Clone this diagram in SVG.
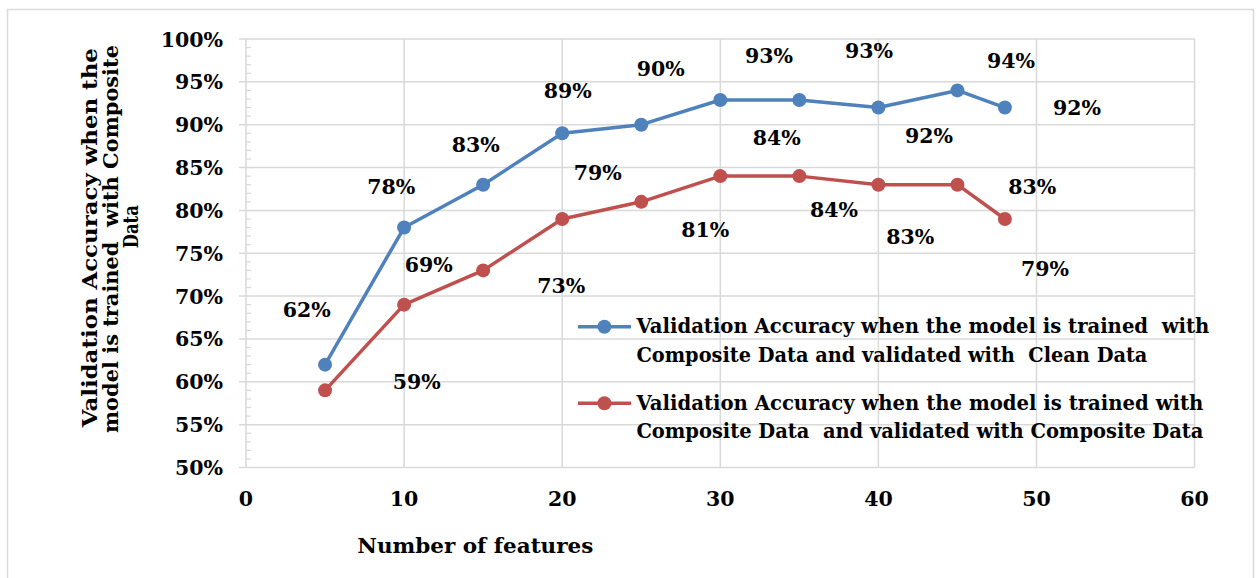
<svg xmlns="http://www.w3.org/2000/svg" width="1257" height="578" viewBox="0 0 1257 578">
  <style>
    text { font-family: "DejaVu Serif", "Liberation Serif", serif; font-weight: bold; fill: #000; font-size: 20.5px; }
    .grid { stroke: #d9d9d9; stroke-width: 1.5; fill: none; }
    .tick { stroke: #d9d9d9; stroke-width: 1.2; }
    .ylab { text-anchor: end; }
    .xlab { text-anchor: middle; }
    .dl { text-anchor: middle; }
    .blue { stroke: #4f81bd; stroke-width: 3.5; fill: none; stroke-linejoin: round; }
    .red { stroke: #c0504d; stroke-width: 3.5; fill: none; stroke-linejoin: round; }
    .bdot { fill: #4f81bd; }
    .rdot { fill: #c0504d; }
  </style>

  <!-- chart frame -->
  <rect x="7.5" y="9.5" width="1246" height="600" fill="#fff" stroke="#d9d9d9" stroke-width="1.5"/>

  <!-- horizontal gridlines every 5% -->
  <g id="y-grid" class="grid">
    <line x1="239" y1="39" x2="1194.6" y2="39"/>
    <line x1="239" y1="81.85" x2="1194.6" y2="81.85"/>
    <line x1="239" y1="124.7" x2="1194.6" y2="124.7"/>
    <line x1="239" y1="167.55" x2="1194.6" y2="167.55"/>
    <line x1="239" y1="210.4" x2="1194.6" y2="210.4"/>
    <line x1="239" y1="253.25" x2="1194.6" y2="253.25"/>
    <line x1="239" y1="296.1" x2="1194.6" y2="296.1"/>
    <line x1="239" y1="338.95" x2="1194.6" y2="338.95"/>
    <line x1="239" y1="381.8" x2="1194.6" y2="381.8"/>
    <line x1="239" y1="424.65" x2="1194.6" y2="424.65"/>
    <line x1="239" y1="467.5" x2="1194.6" y2="467.5"/>
  </g>

  <!-- vertical gridlines every 10 features, y axis at 0 -->
  <g id="x-grid" class="grid">
    <line x1="246" y1="39" x2="246" y2="468"/>
    <line x1="404.1" y1="39" x2="404.1" y2="467.5"/>
    <line x1="562.2" y1="39" x2="562.2" y2="467.5"/>
    <line x1="720.3" y1="39" x2="720.3" y2="467.5"/>
    <line x1="878.4" y1="39" x2="878.4" y2="467.5"/>
    <line x1="1036.5" y1="39" x2="1036.5" y2="467.5"/>
    <line x1="1194.6" y1="39" x2="1194.6" y2="467.5"/>
  </g>

  <!-- minor ticks every 1% -->
  <g id="y-minor" class="tick">
    <line x1="246" y1="47.57" x2="251" y2="47.57"/><line x1="246" y1="56.14" x2="251" y2="56.14"/><line x1="246" y1="64.71" x2="251" y2="64.71"/><line x1="246" y1="73.28" x2="251" y2="73.28"/>
    <line x1="246" y1="90.42" x2="251" y2="90.42"/><line x1="246" y1="98.99" x2="251" y2="98.99"/><line x1="246" y1="107.56" x2="251" y2="107.56"/><line x1="246" y1="116.13" x2="251" y2="116.13"/>
    <line x1="246" y1="133.27" x2="251" y2="133.27"/><line x1="246" y1="141.84" x2="251" y2="141.84"/><line x1="246" y1="150.41" x2="251" y2="150.41"/><line x1="246" y1="158.98" x2="251" y2="158.98"/>
    <line x1="246" y1="176.12" x2="251" y2="176.12"/><line x1="246" y1="184.69" x2="251" y2="184.69"/><line x1="246" y1="193.26" x2="251" y2="193.26"/><line x1="246" y1="201.83" x2="251" y2="201.83"/>
    <line x1="246" y1="218.97" x2="251" y2="218.97"/><line x1="246" y1="227.54" x2="251" y2="227.54"/><line x1="246" y1="236.11" x2="251" y2="236.11"/><line x1="246" y1="244.68" x2="251" y2="244.68"/>
    <line x1="246" y1="261.82" x2="251" y2="261.82"/><line x1="246" y1="270.39" x2="251" y2="270.39"/><line x1="246" y1="278.96" x2="251" y2="278.96"/><line x1="246" y1="287.53" x2="251" y2="287.53"/>
    <line x1="246" y1="304.67" x2="251" y2="304.67"/><line x1="246" y1="313.24" x2="251" y2="313.24"/><line x1="246" y1="321.81" x2="251" y2="321.81"/><line x1="246" y1="330.38" x2="251" y2="330.38"/>
    <line x1="246" y1="347.52" x2="251" y2="347.52"/><line x1="246" y1="356.09" x2="251" y2="356.09"/><line x1="246" y1="364.66" x2="251" y2="364.66"/><line x1="246" y1="373.23" x2="251" y2="373.23"/>
    <line x1="246" y1="390.37" x2="251" y2="390.37"/><line x1="246" y1="398.94" x2="251" y2="398.94"/><line x1="246" y1="407.51" x2="251" y2="407.51"/><line x1="246" y1="416.08" x2="251" y2="416.08"/>
    <line x1="246" y1="433.22" x2="251" y2="433.22"/><line x1="246" y1="441.79" x2="251" y2="441.79"/><line x1="246" y1="450.36" x2="251" y2="450.36"/><line x1="246" y1="458.93" x2="251" y2="458.93"/>
  </g>

  <!-- y axis labels -->
  <g id="y-labels" class="ylab">
    <text class="ylab" x="223" y="46.5">100%</text>
    <text class="ylab" x="223" y="89.3">95%</text>
    <text class="ylab" x="223" y="132.2">90%</text>
    <text class="ylab" x="223" y="175">85%</text>
    <text class="ylab" x="223" y="217.9">80%</text>
    <text class="ylab" x="223" y="260.7">75%</text>
    <text class="ylab" x="223" y="303.6">70%</text>
    <text class="ylab" x="223" y="346.4">65%</text>
    <text class="ylab" x="223" y="389.3">60%</text>
    <text class="ylab" x="223" y="432.1">55%</text>
    <text class="ylab" x="223" y="475">50%</text>
  </g>

  <!-- x axis labels -->
  <g id="x-labels">
    <text class="xlab" x="246" y="506">0</text>
    <text class="xlab" x="404.1" y="506">10</text>
    <text class="xlab" x="562.2" y="506">20</text>
    <text class="xlab" x="720.3" y="506">30</text>
    <text class="xlab" x="878.4" y="506">40</text>
    <text class="xlab" x="1036.5" y="506">50</text>
    <text class="xlab" x="1194.6" y="506">60</text>
  </g>

  <!-- axis titles -->
  <g id="x-title">
    <text x="357.3" y="552.7" font-size="24" textLength="236" lengthAdjust="spacingAndGlyphs">Number of features</text>
  </g>
  <g id="y-title">
    <text transform="translate(96.5,237.7) rotate(-90)" text-anchor="middle" textLength="379" lengthAdjust="spacingAndGlyphs">Validation Accuracy when the</text>
    <text transform="translate(117.5,239) rotate(-90)" text-anchor="middle" textLength="388" lengthAdjust="spacingAndGlyphs" xml:space="preserve">model is trained  with Composite</text>
    <text transform="translate(138.3,226.7) rotate(-90)" text-anchor="middle" textLength="43" lengthAdjust="spacingAndGlyphs">Data</text>
  </g>

  <!-- series: trained on composite, validated on clean -->
  <g id="series-clean">
    <polyline class="blue" points="325.05,364.66 404.1,227.54 483.15,184.69 562.2,133.27 641.25,124.7 720.3,99.99 799.35,99.99 878.4,107.56 957.45,90.42 1004.88,107.56"/>
    <circle class="bdot" cx="325.05" cy="364.66" r="7"/>
    <circle class="bdot" cx="404.1" cy="227.54" r="7"/>
    <circle class="bdot" cx="483.15" cy="184.69" r="7"/>
    <circle class="bdot" cx="562.2" cy="133.27" r="7"/>
    <circle class="bdot" cx="641.25" cy="124.7" r="7"/>
    <circle class="bdot" cx="720.3" cy="99.99" r="7"/>
    <circle class="bdot" cx="799.35" cy="99.99" r="7"/>
    <circle class="bdot" cx="878.4" cy="107.56" r="7"/>
    <circle class="bdot" cx="957.45" cy="90.42" r="7"/>
    <circle class="bdot" cx="1004.88" cy="107.56" r="7"/>
  </g>

  <!-- series: trained on composite, validated on composite -->
  <g id="series-composite">
    <polyline class="red" points="325.05,390.37 404.1,304.67 483.15,270.39 562.2,218.97 641.25,201.83 720.3,176.12 799.35,176.12 878.4,184.69 957.45,184.69 1004.88,218.97"/>
    <circle class="rdot" cx="325.05" cy="390.37" r="7"/>
    <circle class="rdot" cx="404.1" cy="304.67" r="7"/>
    <circle class="rdot" cx="483.15" cy="270.39" r="7"/>
    <circle class="rdot" cx="562.2" cy="218.97" r="7"/>
    <circle class="rdot" cx="641.25" cy="201.83" r="7"/>
    <circle class="rdot" cx="720.3" cy="176.12" r="7"/>
    <circle class="rdot" cx="799.35" cy="176.12" r="7"/>
    <circle class="rdot" cx="878.4" cy="184.69" r="7"/>
    <circle class="rdot" cx="957.45" cy="184.69" r="7"/>
    <circle class="rdot" cx="1004.88" cy="218.97" r="7"/>
  </g>

  <!-- data labels, clean validation -->
  <g id="labels-clean">
    <text class="dl" x="306.7" y="316.7">62%</text>
    <text class="dl" x="391.3" y="194.3">78%</text>
    <text class="dl" x="475.7" y="151.7">83%</text>
    <text class="dl" x="567.7" y="97.5">89%</text>
    <text class="dl" x="660.7" y="75.7">90%</text>
    <text class="dl" x="769" y="63.3">93%</text>
    <text class="dl" x="869" y="58.3">93%</text>
    <text class="dl" x="929" y="143.3">92%</text>
    <text class="dl" x="1011" y="68.3">94%</text>
    <text class="dl" x="1077" y="115">92%</text>
  </g>

  <!-- data labels, composite validation -->
  <g id="labels-composite">
    <text class="dl" x="416.7" y="389.3">59%</text>
    <text class="dl" x="428.7" y="271.7">69%</text>
    <text class="dl" x="561.3" y="293.3">73%</text>
    <text class="dl" x="597.7" y="180">79%</text>
    <text class="dl" x="705.3" y="236.7">81%</text>
    <text class="dl" x="776.7" y="145">84%</text>
    <text class="dl" x="834" y="217.3">84%</text>
    <text class="dl" x="910.3" y="244">83%</text>
    <text class="dl" x="1032.3" y="194">83%</text>
    <text class="dl" x="1045" y="276">79%</text>
  </g>

  <!-- legend -->
  <g id="legend">
    <line class="blue" x1="578" y1="326.7" x2="631" y2="326.7"/>
    <circle class="bdot" cx="604.4" cy="326.7" r="7"/>
    <text x="636.4" y="333.3" textLength="573" lengthAdjust="spacingAndGlyphs" xml:space="preserve">Validation Accuracy when the model is trained  with</text>
    <text x="636.4" y="361.7" textLength="511" lengthAdjust="spacingAndGlyphs" xml:space="preserve">Composite Data and validated with  Clean Data</text>
    <line class="red" x1="578" y1="403.3" x2="631" y2="403.3"/>
    <circle class="rdot" cx="604.4" cy="403.3" r="7"/>
    <text x="636.4" y="410.3" textLength="567" lengthAdjust="spacingAndGlyphs">Validation Accuracy when the model is trained with</text>
    <text x="636.4" y="438.3" textLength="567" lengthAdjust="spacingAndGlyphs" xml:space="preserve">Composite Data  and validated with Composite Data</text>
  </g>
</svg>
